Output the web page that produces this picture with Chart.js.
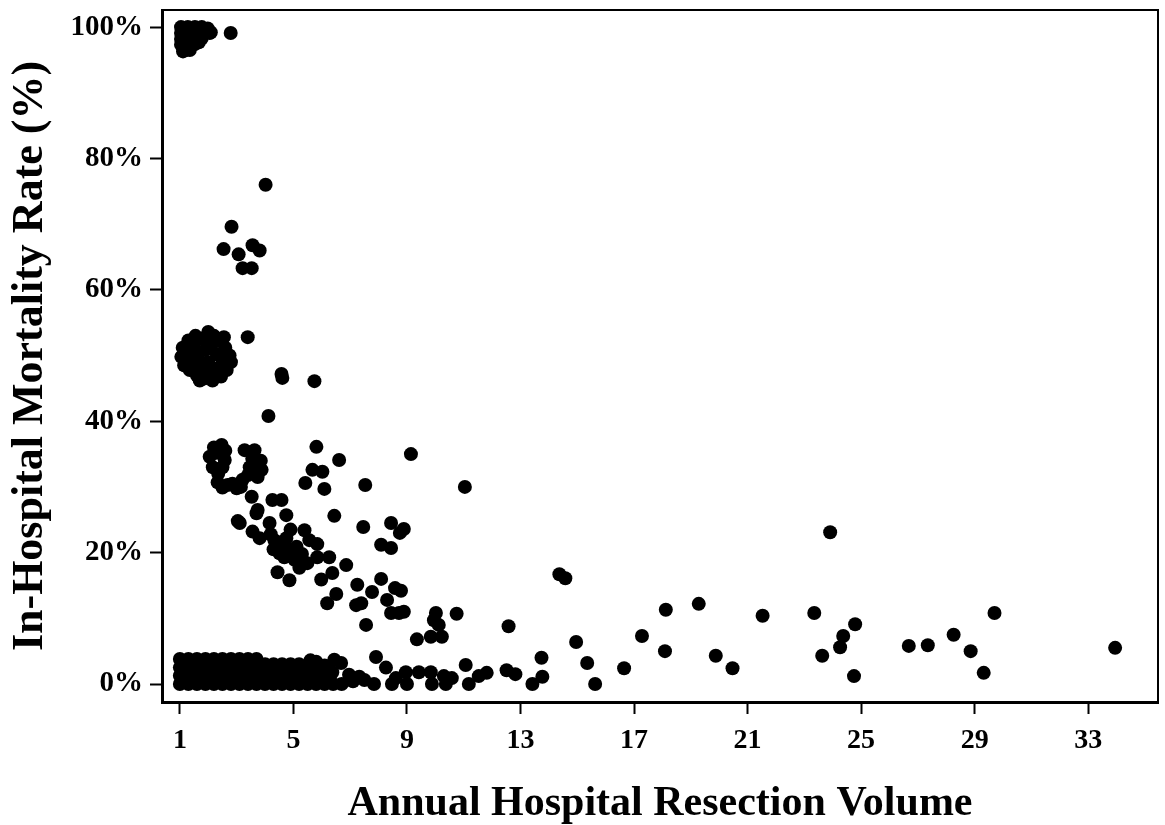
<!DOCTYPE html>
<html>
<head>
<meta charset="utf-8">
<script src="https://cdn.jsdelivr.net/npm/chart.js@4"></script>
<style>
  html, body { margin: 0; background: #fff; }
  #wrap { width: 1165px; height: 825px; }
</style>
</head>
<body>
<div id="wrap"><canvas id="volumeChart"></canvas></div>
<script>
// Hospital resection volume vs in-hospital mortality, one dot per hospital-year

const xTicks = [1, 5, 9, 13, 17, 21, 25, 29, 33];
const yTicks = [0, 20, 40, 60, 80, 100];

// hospitals with 100% mortality
const topVol  = [1.04, 1.28, 1.53, 1.77, 1.98, 1.04, 1.28, 1.53, 1.77, 2.05, 1.04, 1.28, 1.53, 1.77, 1.04, 1.28, 1.53, 1.11, 1.35, 1.21, 1.67, 1.88, 1.42, 1.14, 1.60, 2.09, 2.79,
                 1.10, 1.16, 1.22, 1.34, 1.40, 1.46, 1.59, 1.65, 1.71, 1.83, 1.90, 1.10, 1.22, 1.34, 1.46, 1.59, 1.71, 1.10, 1.22, 1.34, 1.46, 1.16, 1.28];
const topRate = [100, 100, 100, 100, 99.8, 99.1, 99.1, 99.1, 99.1, 99.1, 98.2, 98.2, 98.2, 98.3, 97.3, 97.3, 97.4, 96.3, 96.5, 96.8, 97.7, 99.5, 99.5, 98.6, 98.6, 99.2, 99.1,
                 99.6, 99.6, 99.6, 99.6, 99.6, 99.6, 99.6, 99.6, 99.6, 99.6, 99.6, 98.7, 98.7, 98.7, 98.7, 98.7, 98.7, 97.8, 97.8, 97.8, 97.8, 96.8, 96.6];

// 50% group and the scattered 40-76% hospitals
const midVol  = [1.05, 1.10, 1.15, 1.30, 1.30, 1.35, 1.45, 1.50, 1.55, 1.60, 1.65, 1.75, 1.80, 1.85, 1.90, 2.00, 2.00, 2.05, 2.10, 2.20, 2.25, 2.30, 2.40, 2.45, 2.50, 2.60, 2.65, 2.75, 2.80, 2.35, 1.20, 1.70, 2.15, 1.95, 2.55,
                 4.02, 2.82, 2.54, 3.07, 3.56, 3.81, 3.21, 3.53, 3.39, 4.58, 4.61, 5.74, 4.12];
const midRate = [49.8, 51.2, 48.5, 50.5, 52.3, 47.8, 49.2, 51.8, 53.0, 47.0, 50.2, 48.4, 52.6, 46.5, 50.9, 53.6, 49.0, 47.2, 51.5, 53.0, 48.0, 50.2, 52.2, 46.8, 49.2, 51.2, 47.8, 50.0, 49.0, 47.0, 49.0, 46.2, 46.2, 52.0, 52.8,
                 76.0, 69.6, 66.2, 65.4, 66.8, 66.0, 63.3, 63.3, 52.8, 47.2, 46.6, 46.1, 40.8];

// 7-36% band falling with volume
const bandVol  = [2.47, 2.05, 2.58, 2.16, 2.30, 2.35, 2.50, 2.20, 2.60,
                  3.28, 3.63, 3.88, 3.46, 3.74, 3.21, 3.55, 3.85, 3.40, 3.70,
                  2.33, 2.68, 3.00, 2.50, 2.85, 3.15,
                  5.81, 6.61, 5.67, 6.02, 5.42, 6.09, 7.53, 6.44, 7.46,
                  3.11, 3.04, 3.53, 4.26, 4.58, 3.74, 4.16, 4.75, 3.56, 3.81, 4.40, 4.75, 4.86, 5.11, 5.39, 5.56, 5.84, 4.68, 4.44, 4.86,
                  5.21, 5.49, 5.84, 6.26, 5.98, 6.37, 6.86, 6.51, 6.19, 7.25, 7.21, 4.51, 5.04, 4.68, 3.70, 4.33, 4.20, 4.90, 4.30, 5.30,
                  9.14, 11.04, 8.44, 8.89, 8.75, 8.09, 8.44, 8.09, 7.77, 8.58, 8.79, 8.30, 7.39, 8.44, 8.72, 8.89, 7.56, 10.02, 9.95, 10.12, 10.75, 9.35, 9.84, 10.23];
const bandRate = [36.4, 34.6, 34.1, 33.0, 35.2, 32.0, 33.0, 36.0, 35.5,
                  35.6, 35.6, 32.6, 33.0, 31.5, 31.1, 34.3, 34.0, 31.8, 33.2,
                  30.7, 30.3, 29.8, 29.9, 30.5, 30.0,
                  36.1, 34.1, 32.6, 32.3, 30.6, 29.7, 30.3, 25.6, 23.9,
                  24.5, 24.8, 28.5, 28.0, 28.0, 26.5, 24.5, 25.7, 23.2, 22.2, 21.5, 22.2, 20.4, 20.9, 23.4, 21.9, 21.3, 19.3, 17.0, 15.8,
                  17.7, 18.4, 19.3, 19.3, 15.9, 16.9, 18.1, 13.7, 12.3, 15.1, 12.0, 19.9, 18.9, 21.2, 26.0, 21.9, 22.8, 23.5, 20.5, 19.8,
                  35.0, 30.0, 24.5, 23.6, 23.0, 21.2, 20.7, 16.0, 14.0, 14.6, 14.2, 12.8, 12.3, 10.8, 10.8, 11.0, 9.0, 10.8, 9.7, 9.0, 10.7, 6.8, 7.2, 7.2];

// higher-volume hospitals
const tailVol  = [12.58, 14.37, 14.58, 14.96, 17.28, 18.12, 18.09, 16.65, 15.35, 13.74, 13.77, 13.42, 15.63, 19.28, 21.53, 19.88, 20.47,
                  23.91, 23.35, 24.79, 24.37, 24.26, 23.63, 24.75, 26.68, 27.35, 28.26, 28.86, 29.70, 29.32, 33.95,
                  11.07, 12.51, 12.82, 11.81, 11.53, 10.58, 11.18, 10.37, 9.88, 9.00, 8.47, 7.84, 10.30, 8.26, 8.96, 9.42, 9.84, 8.61, 7.91];
const tailRate = [8.8, 16.7, 16.1, 6.4, 7.3, 11.3, 5.0, 2.4, 3.2, 4.0, 1.1, 0.0, 0.0, 12.2, 10.4, 4.3, 2.4,
                  23.1, 10.8, 9.1, 7.3, 5.6, 4.3, 1.2, 5.8, 5.9, 7.5, 5.0, 10.8, 1.7, 5.5,
                  2.9, 2.1, 1.5, 1.7, 1.2, 0.9, 0.0, 0.0, 0.0, 0.0, 0.0, 0.0, 1.2, 2.5, 1.8, 1.8, 1.8, 0.9, 4.1];

// the crowded 0-4% strip at low volume
const lowVol  = [1.0, 1.3, 1.6, 1.9, 2.2, 2.5, 2.8, 3.1, 3.4, 3.7,
                 4.0, 4.3, 4.6, 4.9, 5.2, 5.6, 5.8, 6.1, 6.44, 6.68,
                 1.0, 1.3, 1.6, 1.9, 2.2, 2.5, 2.8, 3.1, 3.4, 3.7, 4.0, 4.3, 4.6, 4.9, 5.2, 5.5, 5.8,
                 1.0, 1.3, 1.6, 1.9, 2.2, 2.5, 2.8, 3.1, 3.4, 3.7, 4.0, 4.3, 4.6, 4.9, 5.2, 5.5, 5.8, 6.1, 6.37, 6.96, 7.32,
                 1.0, 1.3, 1.6, 1.9, 2.2, 2.5, 2.8, 3.1, 3.4, 3.7, 4.0, 4.3, 4.6, 4.9, 5.2, 5.5, 5.8, 6.1, 6.4, 6.7, 7.1, 7.5,
                 1.15, 1.45, 1.75, 2.05, 2.35, 2.65, 2.95, 3.25, 3.55,
                 1.15, 1.45, 1.75, 2.05, 2.35, 2.65, 2.95, 3.25, 3.55, 3.85, 4.15, 4.45, 4.75, 5.05, 5.35, 5.65, 5.95,
                 1.15, 1.45, 1.75, 2.05, 2.35, 2.65, 2.95, 3.25, 3.55, 3.85, 4.15, 4.45, 4.75, 5.05, 5.35, 5.65, 5.95, 6.25];
const lowRate = [3.8, 3.8, 3.8, 3.8, 3.8, 3.8, 3.8, 3.8, 3.8, 3.8,
                 3.0, 3.0, 3.0, 3.0, 3.0, 3.6, 3.4, 2.8, 3.7, 3.2,
                 2.5, 2.5, 2.5, 2.5, 2.5, 2.5, 2.5, 2.5, 2.5, 2.5, 2.5, 2.5, 2.5, 2.5, 2.5, 2.5, 2.5,
                 1.25, 1.25, 1.25, 1.25, 1.25, 1.25, 1.25, 1.25, 1.25, 1.25, 1.25, 1.25, 1.25, 1.25, 1.25, 1.25, 1.25, 1.25, 1.8, 1.4, 1.1,
                 0, 0, 0, 0, 0, 0, 0, 0, 0, 0, 0, 0, 0, 0, 0, 0, 0, 0, 0, 0, 0.4, 0.6,
                 3.2, 3.2, 3.2, 3.2, 3.2, 3.2, 3.2, 3.2, 3.2,
                 1.9, 1.9, 1.9, 1.9, 1.9, 1.9, 1.9, 1.9, 1.9, 1.9, 1.9, 1.9, 1.9, 1.9, 1.9, 1.9, 1.9,
                 0.6, 0.6, 0.6, 0.6, 0.6, 0.6, 0.6, 0.6, 0.6, 0.6, 0.6, 0.6, 0.6, 0.6, 0.6, 0.6, 0.6, 0.6];

function toPoints(xs, ys) {
    return xs.map((x, i) => ({ x: x, y: ys[i] }));
}

const points = [].concat(
    toPoints(topVol, topRate),
    toPoints(midVol, midRate),
    toPoints(bandVol, bandRate),
    toPoints(tailVol, tailRate),
    toPoints(lowVol, lowRate)
);

const serif = 'Liberation Serif, Times New Roman, serif';

// thin frame on top and right of the plot
const framePlugin = {
    id: 'frame',
    afterDraw(chart) {
        const a = chart.chartArea;
        const ctx = chart.ctx;
        ctx.save();
        ctx.strokeStyle = '#000';
        ctx.lineWidth = 2;
        ctx.beginPath();
        ctx.moveTo(a.left, a.top);
        ctx.lineTo(a.right, a.top);
        ctx.lineTo(a.right, a.bottom);
        ctx.stroke();
        ctx.restore();
    }
};

new Chart(document.getElementById('volumeChart'), {
    type: 'scatter',
    data: {
        datasets: [{
            data: points,
            backgroundColor: '#000',
            borderColor: '#000',
            borderWidth: 0,
            pointBackgroundColor: '#000',
            pointBorderColor: '#000',
            pointBorderWidth: 0,
            pointRadius: 7,
            pointHoverRadius: 7
        }]
    },
    options: {
        responsive: true,
        maintainAspectRatio: false,
        animation: false,
        layout: { padding: { top: 10, right: 3, left: 0, bottom: 0 } },
        plugins: {
            legend: { display: false },
            tooltip: { enabled: false }
        },
        scales: {
            x: {
                type: 'linear',
                min: 0.37,
                max: 35.46,
                afterBuildTicks: s => { s.ticks = xTicks.map(v => ({ value: v })); },
                afterFit: s => { s.height = 123; s.paddingLeft = 0; s.paddingRight = 0; },
                ticks: {
                    color: '#000',
                    font: { family: serif, size: 28, weight: 'bold' },
                    padding: 10,
                    maxRotation: 0,
                    autoSkip: false
                },
                grid: { drawOnChartArea: false, tickLength: 12, tickColor: '#000', tickWidth: 2 },
                border: { color: '#000', width: 3 },
                title: {
                    display: true,
                    text: 'Annual Hospital Resection Volume',
                    color: '#000',
                    font: { family: serif, size: 42, weight: 'bold', lineHeight: 1 },
                    padding: { top: 0, bottom: 0 }
                }
            },
            y: {
                min: -2.74,
                max: 102.6,
                afterBuildTicks: s => { s.ticks = yTicks.map(v => ({ value: v })); },
                afterFit: s => { s.width = 162; s.paddingTop = 0; s.paddingBottom = 0; },
                ticks: {
                    color: '#000',
                    font: { family: serif, size: 29, weight: 'bold' },
                    padding: 7,
                    callback: v => v + '%'
                },
                grid: { drawOnChartArea: false, tickLength: 12, tickColor: '#000', tickWidth: 2 },
                border: { color: '#000', width: 3 },
                title: {
                    display: true,
                    text: 'In-Hospital Mortality Rate (%)',
                    color: '#000',
                    font: { family: serif, size: 44, weight: 'bold', lineHeight: 1 },
                    padding: { top: 9, bottom: 0 }
                }
            }
        }
    },
    plugins: [framePlugin]
});
</script>
</body>
</html>
